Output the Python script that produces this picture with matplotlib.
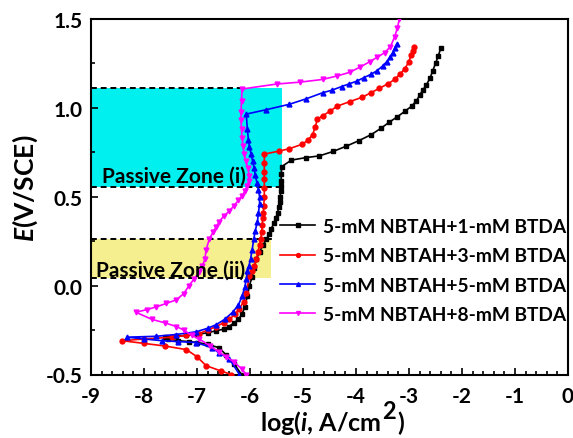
import matplotlib
matplotlib.use("Agg")
import matplotlib.pyplot as plt
from matplotlib.ticker import MultipleLocator

plt.rcParams['font.family'] = ['Lato', 'DejaVu Sans']
plt.rcParams['font.weight'] = 'bold'
plt.rcParams['mathtext.fontset'] = 'custom'
plt.rcParams['mathtext.it'] = 'Lato:italic:bold'
plt.rcParams['mathtext.rm'] = 'Lato:bold'
plt.rcParams['mathtext.bf'] = 'Lato:bold'

labels = ["5-mM NBTAH+1-mM BTDA", "5-mM NBTAH+3-mM BTDA",
          "5-mM NBTAH+5-mM BTDA", "5-mM NBTAH+8-mM BTDA"]
colors = ["black", "red", "blue", "magenta"]
markers = ["s", "o", "^", "v"]

# 1-mM BTDA
x1 = [-6.16, -6.3, -6.45, -6.58, -6.8, -7.0, -7.15, -7.35, -7.55, -7.6,
      -7.4, -7.2, -7.0, -6.8, -6.65, -6.5, -6.4, -6.3, -6.22, -6.15, -6.1, -6.05,
      -6.01, -5.96, -5.92, -5.88, -5.82, -5.75, -5.69, -5.64, -5.6, -5.55, -5.51,
      -5.48, -5.46, -5.44, -5.43, -5.42, -5.42, -5.41, -5.41, -5.4,
      -5.22, -4.95, -4.69, -4.43, -4.18, -3.95, -3.71, -3.53, -3.37, -3.22,
      -3.08, -2.95, -2.86, -2.8, -2.74, -2.67, -2.6, -2.55, -2.5, -2.45, -2.4]
y1 = [-0.5, -0.44, -0.39, -0.35, -0.33, -0.32, -0.315, -0.31, -0.3, -0.29,
      -0.285, -0.28, -0.275, -0.265, -0.255, -0.245, -0.23, -0.21, -0.19, -0.16, -0.12, -0.06,
      0.0, 0.05, 0.1, 0.15, 0.19, 0.23, 0.26, 0.29, 0.32, 0.35, 0.38,
      0.41, 0.44, 0.47, 0.5, 0.53, 0.56, 0.59, 0.63, 0.67,
      0.706, 0.72, 0.73, 0.755, 0.785, 0.815, 0.85, 0.885, 0.92, 0.95,
      0.98, 1.01, 1.04, 1.07, 1.1, 1.13, 1.17, 1.21, 1.25, 1.29, 1.337]

# 3-mM BTDA
x2 = [-6.35, -6.55, -6.83, -7.0, -7.2, -7.6, -8.0, -8.41,
      -8.0, -7.47, -7.2, -6.96, -6.8, -6.64, -6.5, -6.39, -6.28, -6.2, -6.12, -6.07,
      -6.01, -5.96, -5.92, -5.88, -5.85, -5.82, -5.8, -5.78, -5.77, -5.76, -5.75,
      -5.74, -5.73, -5.73, -5.73, -5.73, -5.73, -5.73,
      -5.45, -5.26, -5.01, -4.9, -4.82, -4.77, -4.73, -4.63, -4.5, -4.35, -4.12, -3.88,
      -3.72, -3.56, -3.4, -3.27, -3.17, -3.08, -3.0, -2.96, -2.93, -2.91]
y2 = [-0.5, -0.48, -0.45, -0.4, -0.36, -0.34, -0.325, -0.31,
      -0.3, -0.29, -0.28, -0.27, -0.25, -0.23, -0.21, -0.19, -0.16, -0.13, -0.09, -0.04,
      0.053, 0.08, 0.11, 0.15, 0.19, 0.23, 0.26, 0.3, 0.34, 0.38, 0.41,
      0.45, 0.5, 0.55, 0.6, 0.64, 0.69, 0.74,
      0.757, 0.77, 0.796, 0.82, 0.85, 0.89, 0.937, 0.955, 0.98, 1.01, 1.035, 1.06,
      1.085, 1.11, 1.135, 1.16, 1.19, 1.22, 1.26, 1.3, 1.32, 1.34]

# 5-mM BTDA
x3 = [-6.2, -6.39, -6.58, -6.71, -7.02, -7.35, -7.66, -8.0, -8.32,
      -7.77, -7.4, -7.02, -6.8, -6.64, -6.48, -6.33, -6.22, -6.15, -6.1, -6.07,
      -6.05, -6.02, -5.99, -5.96, -5.93, -5.9, -5.86, -5.84, -5.82, -5.82, -5.84,
      -5.87, -5.9, -5.92, -5.95, -5.98, -6.01, -6.03, -6.05, -6.07,
      -5.69, -5.26, -4.95, -4.63, -4.45, -4.27, -4.13, -3.99, -3.85, -3.71, -3.6,
      -3.5, -3.42, -3.36, -3.31, -3.27, -3.23]
y3 = [-0.5, -0.41, -0.38, -0.35, -0.32, -0.315, -0.31, -0.3, -0.29,
      -0.285, -0.275, -0.26, -0.24, -0.22, -0.19, -0.15, -0.11, -0.06, -0.01, 0.036,
      0.08, 0.11, 0.15, 0.2, 0.26, 0.31, 0.36, 0.41, 0.46, 0.5, 0.54,
      0.58, 0.62, 0.66, 0.7, 0.74, 0.78, 0.82, 0.88, 0.965,
      0.99, 1.02, 1.05, 1.085, 1.1, 1.12, 1.135, 1.15, 1.17, 1.19, 1.21,
      1.235, 1.26, 1.285, 1.31, 1.335, 1.36]

# 8-mM BTDA
x4 = [-6.07, -6.15, -6.3, -6.45, -6.58, -6.75, -6.96, -7.1, -7.25, -7.39, -7.6, -7.85, -8.15,
      -7.95, -7.77, -7.58, -7.39, -7.25, -7.15, -7.05, -6.96, -6.9, -6.85, -6.83,
      -6.77, -6.7, -6.64, -6.58, -6.5, -6.39, -6.3, -6.22, -6.15, -6.1, -6.06, -6.02,
      -6.01, -6.04, -6.08, -6.11, -6.13, -6.15, -6.16, -6.17, -6.17, -6.16, -6.15,
      -5.5, -5.05, -4.63, -4.35, -4.12, -3.92, -3.74, -3.6, -3.46, -3.35, -3.27,
      -3.22, -3.18]
y4 = [-0.5, -0.47, -0.43, -0.4, -0.375, -0.34, -0.3, -0.28, -0.25, -0.23, -0.21, -0.19, -0.15,
      -0.135, -0.12, -0.1, -0.08, -0.045, 0.0, 0.04, 0.075, 0.11, 0.15, 0.2,
      0.26, 0.3, 0.33, 0.36, 0.39, 0.42, 0.45, 0.48, 0.505, 0.53, 0.56, 0.59,
      0.616, 0.66, 0.7, 0.74, 0.785, 0.83, 0.88, 0.93, 0.976, 1.04, 1.106,
      1.134, 1.145, 1.16, 1.18, 1.2, 1.23, 1.26, 1.285, 1.31, 1.345, 1.40,
      1.45, 1.5]

series_x = [x1, x2, x3, x4]
series_y = [y1, y2, y3, y4]

W, H = 573, 439
fig = plt.figure(figsize=(W / 100, H / 100), dpi=100)
ax = fig.add_axes([91 / W, 1 - 375.5 / H, (568 - 91) / W, (375.5 - 20) / H])

# Passive zones
ax.fill_between([-9, -5.39], 0.555, 1.111, color="#00f0f0", zorder=0, lw=0)
ax.fill_between([-9, -5.6], 0.042, 0.261, color="#f6ef8f", zorder=0, lw=0)
dash = dict(color="black", ls=(0, (3, 2)), lw=1.4, zorder=1)
ax.plot([-9, -6.15], [1.111, 1.111], **dash)
ax.plot([-9, -5.38], [0.555, 0.555], **dash)
ax.plot([-9, -5.58], [0.261, 0.261], **dash)
ax.plot([-9, -5.92], [0.042, 0.042], **dash)

for xs, ys, c, m, lab in zip(series_x, series_y, colors, markers, labels):
    ax.plot(xs, ys, color=c, marker=m, markersize=3.5, lw=1.2, label=lab, zorder=3)

ax.text(-8.8, 0.616, "Passive Zone (i)", fontsize=15, fontweight="bold",
        va="center", ha="left", zorder=4)
ax.text(-8.9, 0.092, "Passive Zone (ii)", fontsize=15, fontweight="bold",
        va="center", ha="left", zorder=4)

ax.set_xlim(-9, 0)
ax.set_ylim(-0.5, 1.5)
ax.xaxis.set_major_locator(MultipleLocator(1))
ax.xaxis.set_minor_locator(MultipleLocator(0.2))
ax.yaxis.set_major_locator(MultipleLocator(0.5))
ax.yaxis.set_minor_locator(MultipleLocator(0.25))
ax.tick_params(which="both", direction="in", top=False, right=False, width=1.2)
ax.tick_params(which="major", length=5, labelsize=15)
ax.tick_params(which="minor", length=3)
ax.tick_params(axis="x", which="major", pad=8)
ax.tick_params(axis="y", which="major", pad=6)
ax.set_xticks(range(-9, 1))
ax.set_xticklabels([str(v) for v in range(-9, 1)])
ax.set_yticks([-0.5, 0.0, 0.5, 1.0, 1.5])
ax.set_yticklabels(["-0.5", "0.0", "0.5", "1.0", "1.5"])
for lbl in ax.get_xticklabels() + ax.get_yticklabels():
    lbl.set_fontweight("bold")
for s in ax.spines.values():
    s.set_linewidth(1.5)

# y label
fig.text(25 / W, 1 - 188 / H, r"$\mathit{E}$(V/SCE)", fontsize=19, fontweight="bold",
         rotation=90, ha="center", va="center")

# x label with full-size raised superscript
base = 431
t_main = fig.text(260 / W, 1 - base / H, r"log($\mathit{i}$, A/cm", fontsize=18,
                  fontweight="bold", ha="left", va="baseline")
fig.canvas.draw()
r = fig.canvas.get_renderer()
bb = t_main.get_window_extent(renderer=r)
t_sup = fig.text((bb.x1 + 1) / W, 1 - (base - 12) / H, "2", fontsize=17, fontweight="bold",
                 ha="left", va="baseline")
bb2 = t_sup.get_window_extent(renderer=r)
fig.text((bb2.x1 + 1) / W, 1 - base / H, ")", fontsize=18, fontweight="bold",
         ha="left", va="baseline")

leg = ax.legend(loc="upper left", bbox_to_anchor=(280 / W, 1 - 219 / H),
                bbox_transform=fig.transFigure,
                frameon=False, fontsize=13.8, handlelength=1.85, handletextpad=0.4,
                labelspacing=0.64, borderpad=0, borderaxespad=0, markerscale=0.8)
for t in leg.get_texts():
    t.set_fontweight("bold")

fig.savefig("out.png", dpi=100)
